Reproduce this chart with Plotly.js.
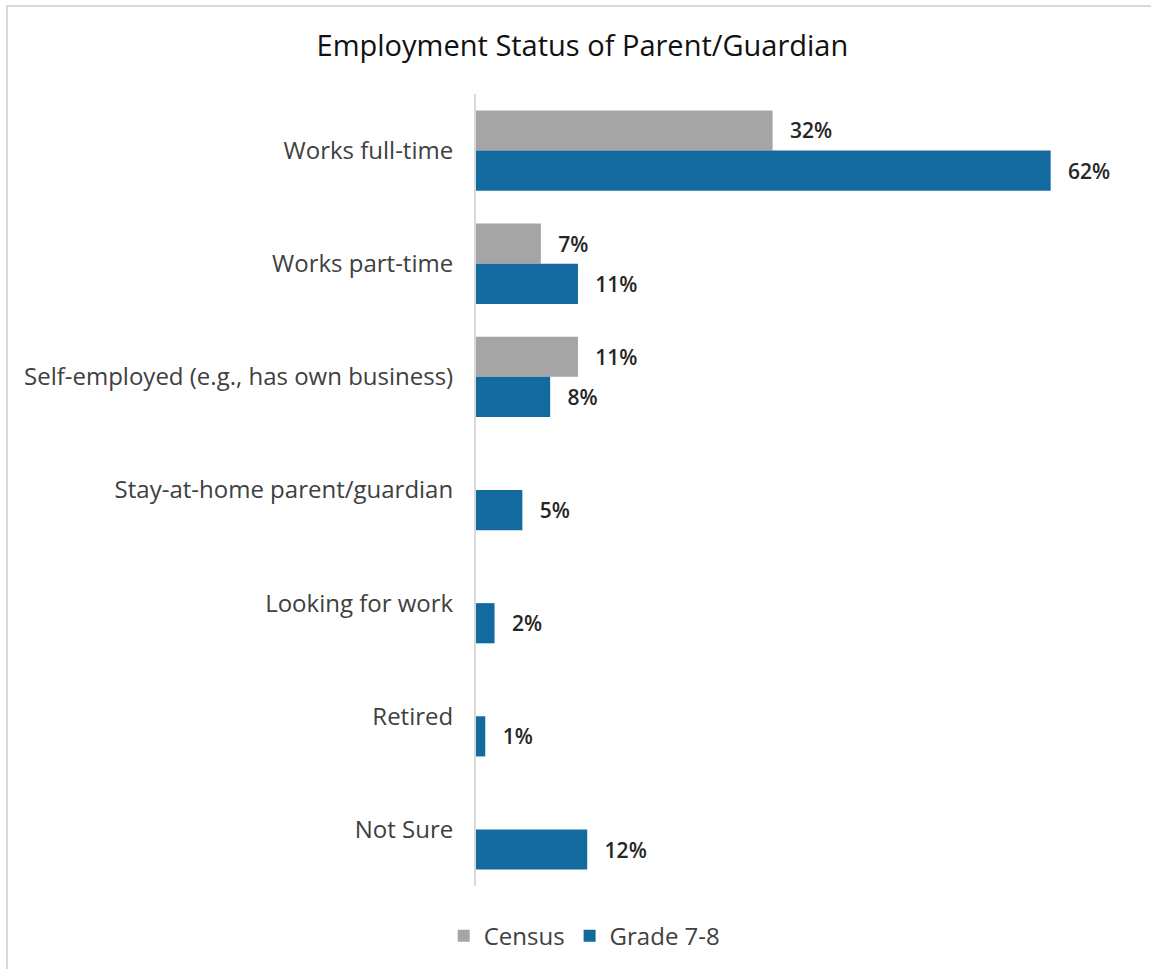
<!DOCTYPE html>
<html>
<head>
<meta charset="utf-8">
<script src="https://cdn.plot.ly/plotly-3.0.1.min.js"></script>
<style>
  html, body { margin: 0; padding: 0; background: #fff; overflow: hidden; }
  #chart { width: 1151px; height: 969px; }
  #frame { position: absolute; left: 6px; top: 5px; width: 1300px; height: 1100px;
           border-left: 2px solid #d9d9d9; border-top: 2px solid #d9d9d9; pointer-events: none; }
</style>
</head>
<body>
<div id="chart"></div>
<div id="frame"></div>
<script>
const categories = ["Works full-time", "Works part-time", "Self-employed (e.g., has own business)",
  "Stay-at-home parent/guardian", "Looking for work", "Retired", "Not Sure"];
const censusValues = [32, 7, 11, null, null, null, null];
const gradeValues = [62, 11, 8, 5, 2, 1, 12];
const seriesNames = ["Census", "Grade 7-8"];
const seriesColors = ["#A5A5A5", "#136A9F"];

function labels(vals) {
  return vals.map(v => v == null ? "" : "\u00a0\u00a0\u2009" + v + "%");
}

const FONT = "'Open Sans', Lato, sans-serif";
const labelFont = { family: FONT, size: 21, color: "#262626", weight: 600 };

const traces = [
  {
    type: "bar", orientation: "h", name: seriesNames[0],
    y: categories, x: censusValues,
    marker: { color: seriesColors[0] },
    text: labels(censusValues), textposition: "outside", cliponaxis: false,
    textfont: labelFont, hoverinfo: "skip"
  },
  {
    type: "bar", orientation: "h", name: seriesNames[1],
    y: categories, x: gradeValues,
    marker: { color: seriesColors[1] },
    text: labels(gradeValues), textposition: "outside", cliponaxis: false,
    textfont: labelFont, hoverinfo: "skip"
  }
];

const layout = {
  width: 1151, height: 969,
  paper_bgcolor: "#fff", plot_bgcolor: "#fff",
  margin: { l: 476, r: 54, t: 94, b: 83 },
  barmode: "group", bargap: 0.29, bargroupgap: 0,
  title: {
    text: "Employment Status of Parent/Guardian",
    font: { family: FONT, size: 29, color: "#111" },
    x: 0.506, xanchor: "center", xref: "container",
    y: 0.953, yanchor: "middle", yref: "container"
  },
  xaxis: {
    range: [0, 67], showgrid: false, zeroline: false, showticklabels: false,
    showline: false, fixedrange: true
  },
  yaxis: {
    autorange: "reversed", showline: true, linecolor: "#d9d9d9", linewidth: 2,
    ticks: "", ticklabelstandoff: 16, showgrid: false, zeroline: false,
    tickfont: { family: FONT, size: 24, color: "#404040" }
  },
  showlegend: true,
  legend: {
    orientation: "h", xref: "container", yref: "container",
    x: 0.508, xanchor: "center", y: 0.034, yanchor: "middle",
    font: { family: FONT, size: 24, color: "#404040" },
    itemwidth: 30, traceorder: "normal"
  }
};

Plotly.newPlot("chart", traces, layout, { displayModeBar: false, staticPlot: true });
</script>
</body>
</html>
